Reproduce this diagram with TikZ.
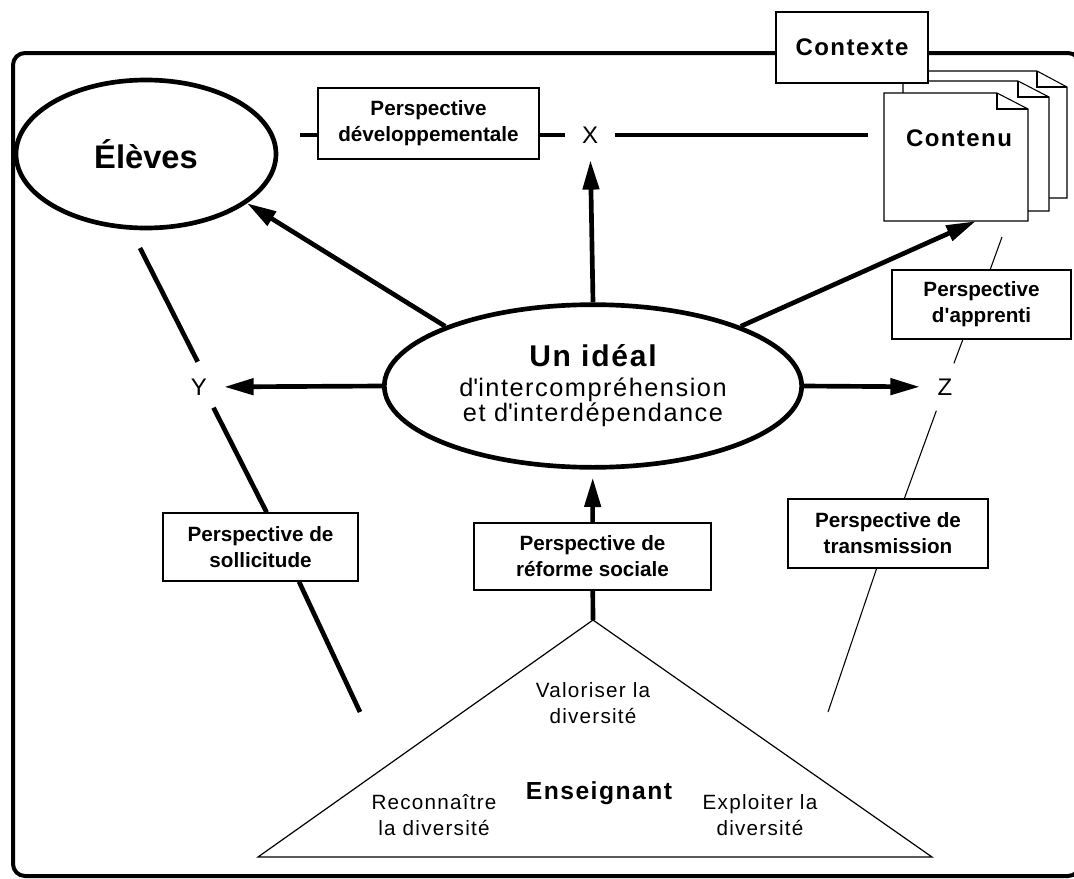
\documentclass[tikz,border=0pt]{standalone}
\usepackage{fontspec}
\setmainfont{Liberation Sans}
\newfontfamily\espace{Liberation Sans}[LetterSpace=6]
\usetikzlibrary{arrows.meta,shapes.geometric}

\tikzset{
  boite/.style={draw, fill=white, line width=1pt, inner sep=0pt, align=center,
    font=\bfseries\fontsize{15.5}{19.5}\selectfont},
  lettre/.style={circle, minimum size=37.5pt, inner sep=0pt, font=\fontsize{18}{21}\selectfont},
  trait/.style={line width=3.5pt},
  fin/.style={line width=0.8pt},
  fleche/.style={line width=3.5pt, -{Triangle[length=22pt,width=12pt]}},
  page/.style={draw, fill=white, line width=0.8pt},
}

\begin{document}
\begin{tikzpicture}[x=0.75pt,y=0.75pt,yscale=-1,xscale=1]
\useasboundingbox (0,0) rectangle (1074,878);
\clip (0,0) rectangle (1074,878);

%Cadre
\draw [line width=3pt, rounded corners=9pt] (13,53) rectangle (1080,876);

%Pages du contenu
\draw [page] (922,71) -- (1037,71) -- (1067,87) -- (1067,198) -- (922,198) -- cycle;
\draw [fin] (1037,71) -- (1037,87) -- (1067,87);
\draw [page] (903,81) -- (1018,81) -- (1049,97) -- (1049,211) -- (903,211) -- cycle;
\draw [fin] (1018,81) -- (1018,97) -- (1049,97);
\draw [page] (884,93) -- (997,93) -- (1028,109) -- (1028,221) -- (884,221) -- cycle;
\draw [fin] (997,93) -- (997,109) -- (1028,109);
\node [minimum width=108pt, minimum height=96pt, inner sep=0pt] (contenu) at (956,157) {};
\node [font=\espace\bfseries\fontsize{18}{21}\selectfont] (contenutxt) at (959,138) {Contenu};

%Contexte
\node [boite, minimum width=114pt, minimum height=53.25pt, font=\espace\bfseries\fontsize{18}{21}\selectfont] (contexte) at (852,47.5) {Contexte};

%Ellipses
\node [draw, ellipse, line width=3.5pt, minimum width=195pt, minimum height=111pt, inner sep=0pt,
  font=\bfseries\fontsize{24.5}{28}\selectfont] (eleves) at (146,154) {Élèves};
\node [draw, ellipse, line width=3.5pt, minimum width=313pt, minimum height=122pt, inner sep=0pt,
  align=center, font=\espace] (ideal) at (593,386)
  {{\bfseries\fontsize{22.5}{26}\selectfont Un idéal}\\[7pt]
   {\fontsize{19}{21}\selectfont d\textquotesingle intercompréhension}\\
   {\fontsize{19}{21}\selectfont et d\textquotesingle interdépendance}};

%Boites des perspectives
\node [boite, minimum width=165.75pt, minimum height=53.25pt] (dev) at (428.5,123.5) {Perspective\\développementale};
\node [boite, minimum width=146.25pt, minimum height=51pt] (sollic) at (260.5,547) {Perspective de\\sollicitude};
\node [boite, minimum width=177.75pt, minimum height=50.25pt] (reforme) at (592.5,556.5) {Perspective de\\réforme sociale};
\node [boite, minimum width=150pt, minimum height=51.75pt] (transmission) at (888,533.5) {Perspective de\\transmission};
\node [boite, minimum width=134.25pt, minimum height=51.75pt] (apprenti) at (981.5,304.5) {Perspective\\d\textquotesingle apprenti};

%X Y Z
\node [lettre] (X) at (590,135) {X};
\node [lettre] (Y) at (199,387) {Y};
\node [lettre] (Z) at (945,387) {Z};

%Points libres
\coordinate (xl) at (300,135);
\coordinate (xr) at (868,135);
\coordinate (ya) at (140,248);
\coordinate (ta) at (360,712);
\coordinate (cb) at (1002,237);
\coordinate (tb) at (828,712);
\coordinate (sommet) at (593,620);
\coordinate (bg) at (258,857);
\coordinate (bd) at (932,857);

%Axe X
\draw [trait] (xl) -- (dev.west |- xl);
\draw [trait] (dev.east |- X) -- (X);
\draw [trait] (X) -- (xr);

%Axe Y
\draw [trait] (ya) -- (Y.93);
\draw [trait] (Y.-55) -- (sollic.80);
\draw [trait] (sollic.-42) -- (ta);

%Axe Z
\draw [fin] (cb) -- (apprenti.76);
\draw [fin] (apprenti.-118) -- (Z);
\draw [fin] (Z) -- (transmission.65);
\draw [fin] (transmission.-108) -- (tb);

%Fleches
\draw [fleche] (ideal.north) -- (X);
\draw [fleche] (ideal.158) -- (eleves.-26);
\draw [fleche] (ideal.22) -- (contenu.-73);
\draw [fleche] (ideal.west) -- (Y);
\draw [fleche] (ideal.east) -- (Z);
\draw [fleche, shorten >=6pt] (reforme) -- (ideal);
\draw [trait] (reforme) -- (sommet);

%Triangle
\draw [line width=0.9pt] (sommet) -- (bd) -- (bg) -- cycle;
\node [align=center, font=\espace\fontsize{15.5}{19}\selectfont] (valoriser) at (593,703) {Valoriser la\\diversité};
\node [font=\espace\bfseries\fontsize{18.5}{21}\selectfont] (enseignant) at (599,793) {Enseignant};
\node [align=center, font=\espace\fontsize{15.5}{19}\selectfont] (reconnaitre) at (434,815) {Reconnaître\\la diversité};
\node [align=center, font=\espace\fontsize{15.5}{19}\selectfont] (exploiter) at (760,815) {Exploiter la\\diversité};
\end{tikzpicture}
\end{document}
